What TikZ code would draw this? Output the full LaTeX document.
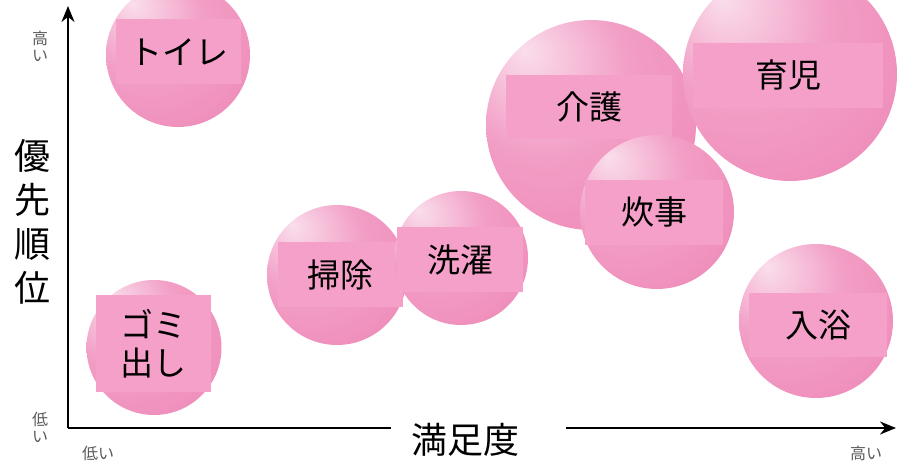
\documentclass[tikz,border=0pt]{standalone}
\usepackage{fontspec}
\setmainfont{Noto Sans CJK JP}
\usetikzlibrary{arrows.meta}
\definecolor{tagpink}{RGB}{245,160,200}
\definecolor{hipink}{RGB}{250,222,236}
\definecolor{midpink}{RGB}{242,158,197}
\definecolor{lowpink}{RGB}{238,138,184}
\definecolor{deeppink}{RGB}{230,105,160}
\definecolor{axisgray}{RGB}{90,90,90}
\pgfdeclareradialshading{bubble}{\pgfpoint{-16bp}{18bp}}{color(0bp)=(hipink); color(20bp)=(midpink); color(42bp)=(lowpink); color(66bp)=(deeppink)}
\tikzset{
  ball/.style={circle, shade, shading=bubble, inner sep=0pt, outer sep=0pt},
  tag/.style={fill=tagpink, inner sep=0pt, align=center, font=\fontsize{33}{38}\selectfont},
  axis/.style={line width=2.2pt, -{Stealth[length=16pt,width=13pt]}},
  small/.style={text=axisgray, font=\fontsize{16}{17}\selectfont, align=center, inner sep=0pt}
}
\begin{document}
\begin{tikzpicture}[x=1pt,y=-1pt]
  \useasboundingbox (0,0) rectangle (898,462);
  % bubbles with their labels
  \node[ball, minimum size=144] (toilet-b) at (178,55) {};
  \node[tag, minimum width=125, minimum height=65] (toilet) at (178.5,52) {トイレ};
  \node[ball, minimum size=135] (gomi-b) at (154,347.5) {};
  \node[tag, minimum width=115, minimum height=97] (gomi) at (153.5,343.5) {ゴミ\\出し};
  \node[ball, minimum size=140] (souji-b) at (337,275) {};
  \node[tag, minimum width=125, minimum height=65] (souji) at (340.5,274.5) {掃除};
  \node[ball, minimum size=134] (sentaku-b) at (461,258) {};
  \node[tag, minimum width=126, minimum height=65] (sentaku) at (460,259.5) {洗濯};
  \node[ball, minimum size=210] (kaigo-b) at (591,125) {};
  \node[tag, minimum width=166, minimum height=64] (kaigo) at (589,107) {介護};
  \node[ball, minimum size=154] (suiji-b) at (657,212) {};
  \node[tag, minimum width=138, minimum height=65] (suiji) at (654,212.5) {炊事};
  \node[ball, minimum size=214] (ikuji-b) at (790,74) {};
  \node[tag, minimum width=190, minimum height=65] (ikuji) at (788,75.5) {育児};
  \node[ball, minimum size=154] (nyuyoku-b) at (816,321) {};
  \node[tag, minimum width=138, minimum height=64] (nyuyoku) at (818,325) {入浴};
  % axes
  \coordinate (o) at (68,428);
  \coordinate (ytip) at (68,6);
  \coordinate (xtip) at (896,428);
  \node[font=\fontsize{36}{40}\selectfont, inner sep=0pt, inner xsep=20pt] (xlab) at (465,440) {満足度};
  \node[font=\fontsize{36}{44}\selectfont, align=center, inner sep=0pt] (ylab) at (32,222) {優\\先\\順\\位};
  \draw[line width=2.2pt] (o) -- (o -| xlab.west);
  \draw[axis] ([xshift=27pt]xlab.east |- xtip) -- (xtip);
  \draw[axis] (o) -- (ytip);
  \node[small] (yhigh) at (40,46) {高\\い};
  \node[small] (ylow) at (40,427) {低\\い};
  \node[small] (xlow) at (98,453) {低い};
  \node[small] (xhigh) at (866,453) {高い};
\end{tikzpicture}
\end{document}
